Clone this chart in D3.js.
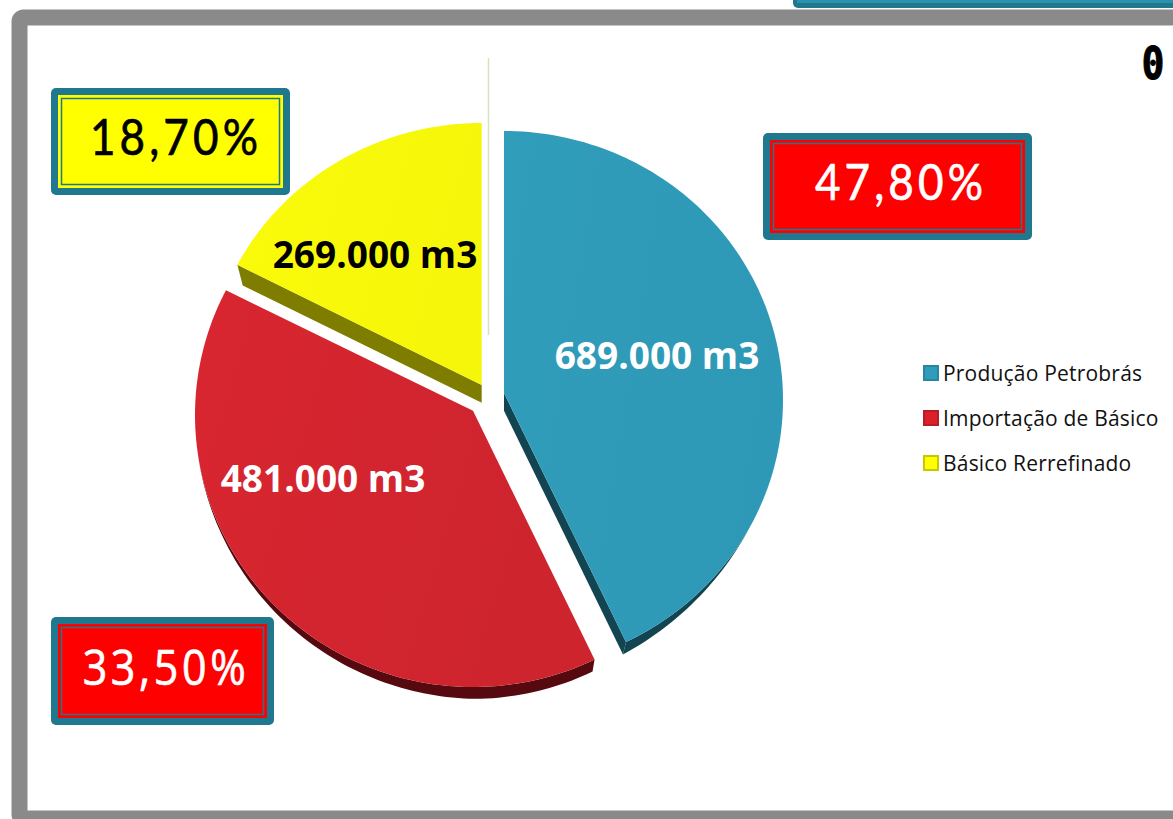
<!DOCTYPE html>
<html><head><meta charset="utf-8">
<script src="https://cdn.jsdelivr.net/npm/d3@7/dist/d3.min.js"></script>
<style>html,body{margin:0;background:#fff}svg{display:block}</style></head>
<body><svg id="c" width="1173" height="819"></svg>
<script>
const categories=["Produção Petrobrás","Importação de Básico","Básico Rerrefinado"];
const volumes=[689000,481000,269000];
const volumeLabels=["689.000 m3","481.000 m3","269.000 m3"];
const percentLabels=["47,80%","33,50%","18,70%"];
const topColors=["#2f9bb9","#d3252f","#f8f80a"];
const gradientTone=[0.03,0.08,0.02];
const sideColors=["#134452","#560a10","#7f7d00"];
const legendColors=["#2e9cba","#dc2029","#ffff00"];
const legendStroke=["#2a86a0","#b81c26","#c8c800"];
const perspectiveFrom=[0,172.4,292.7,360];
const perspectiveTo=[0,154.1,297.3,360];
const sliceGeom=[
 {ax:504,ay:393,cx:504,cy:400,rx:279,ry:269,depth:[-3,12.5],fade:[118,154.1],cut:"end",apexDepth:[0,17.7]},
 {ax:473,ay:410.7,cx:473,cy:415,rx:278,ry:272,depth:[-2,12],fade:[262,178],cut:null},
 {ax:481.7,ay:385,cx:481.7,cy:385,rx:275,ry:262,depth:[5.4,20.7],cut:"start",apexDepth:[0,17.7]}];
const boxes=[
 {x:763,y:133,w:269,h:107,fill:"#ff0000",ink:"#fff",tx:901,ty:200,size:50,font:"Lato",sp:4.7,sx:0.88},
 {x:51,y:617,w:223,h:108,fill:"#ff0000",ink:"#fff",tx:166,ty:685,size:50,font:"Open Sans",sp:4.2,sx:0.86},
 {x:51,y:88,w:239,h:107,fill:"#ffff00",ink:"#000",tx:176,ty:155,size:50,font:"Lato",sp:4.7,sx:0.88}];
const labelPos=[[657,369],[323,492],[375,268]];
const labelInk=["#fff","#fff","#000"];

const svg=d3.select("#c");
const warp=d3.scaleLinear().domain(perspectiveFrom).range(perspectiveTo);
const arcs=d3.pie().sort(null).startAngle(0).endAngle(2*Math.PI)(volumes);
const deg=d3.scaleLinear().domain([0,2*Math.PI]).range([0,360]);
const rad=d3.scaleLinear().domain([0,360]).range([0,2*Math.PI]);
const pt=(g,a)=>[g.cx+g.rx*Math.sin(a),g.cy-g.ry*Math.cos(a)];
const line=d3.line();

// frame
svg.append("rect").attr("x",19.5).attr("y",17.5).attr("width",1300).attr("height",801)
 .attr("rx",4).attr("fill","#fff").attr("stroke","#8a8a8a").attr("stroke-width",16);
svg.append("rect").attr("x",793).attr("y",-20).attr("width",500).attr("height",28).attr("rx",5).attr("fill","#20788f");
svg.append("rect").attr("x",797).attr("y",-20).attr("width",500).attr("height",23).attr("fill","#2b92ad");
svg.append("line").attr("x1",488.5).attr("x2",488.5).attr("y1",58).attr("y2",335).attr("stroke","#d3e3bd").attr("stroke-width",1.5);

// slices
const defs=svg.append("defs");
arcs.forEach((d,i)=>{
 const g=sliceGeom[i];
 const a0=rad(warp(deg(d.startAngle))),a1=rad(warp(deg(d.endAngle)));
 const angles=d3.range(121).map(k=>a0+(a1-a0)*k/120);
 const outer=angles.map(a=>pt(g,a));
 const apex=[g.ax,g.ay];
 const grp=svg.append("g");
 // side wall along the rim, fading out as the rim turns away
 if(g.fade){
  const f=d3.scaleLinear().domain(g.fade).range([0,1]).clamp(true);
  const low=angles.map((a,k)=>{const t=f(deg(a));return [outer[k][0]+g.depth[0]*t,outer[k][1]+g.depth[1]*t];});
  grp.append("path").attr("d",line([...outer,...low.reverse()])+"Z").attr("fill",sideColors[i]);
 }
 // side wall along the cut face
 if(g.cut){
  const tip=g.cut==="end"?outer[120]:outer[0];
  grp.append("path").attr("d",line([apex,tip,[tip[0]+g.depth[0],tip[1]+g.depth[1]],[apex[0]+g.apexDepth[0],apex[1]+g.apexDepth[1]]])+"Z").attr("fill",sideColors[i]);
 }
 const gid="g"+i;
 const lg=defs.append("linearGradient").attr("id",gid).attr("x1","0").attr("y1","0").attr("x2","1").attr("y2","0.3");
 lg.append("stop").attr("offset","0").attr("stop-color",d3.color(topColors[i]).brighter(gradientTone[i]));
 lg.append("stop").attr("offset","1").attr("stop-color",d3.color(topColors[i]).darker(gradientTone[i]));
 grp.append("path").attr("d",line([apex,...outer])+"Z").attr("fill",`url(#${gid})`);
 svg.append("text").attr("x",labelPos[i][0]).attr("y",labelPos[i][1]).attr("text-anchor","middle")
  .attr("font-family","Open Sans").attr("font-weight",700).attr("font-size",37).attr("fill",labelInk[i]).text(volumeLabels[i]);
});

// percent boxes
percentLabels.forEach((t,i)=>{
 const b=boxes[i],g=svg.append("g");
 g.append("rect").attr("x",b.x).attr("y",b.y).attr("width",b.w).attr("height",b.h).attr("rx",5).attr("fill","#20788f");
 g.append("rect").attr("x",b.x+7).attr("y",b.y+7).attr("width",b.w-14).attr("height",b.h-14).attr("fill",b.fill);
 g.append("rect").attr("x",b.x+10.5).attr("y",b.y+10.5).attr("width",b.w-21).attr("height",b.h-21).attr("fill",b.fill).attr("stroke","#20788f").attr("stroke-width",1.5);
 g.append("text").attr("transform",`translate(${b.tx},${b.ty}) scale(${b.sx},1)`).attr("text-anchor","middle").attr("font-family",b.font).attr("font-size",b.size).attr("letter-spacing",b.sp).attr("fill",b.ink).attr("stroke",b.ink).attr("stroke-width",0.7).text(t);
});

// legend
const ly=d3.scalePoint().domain(categories).range([373,463]);
categories.forEach((c,i)=>{
 svg.append("rect").attr("x",924).attr("y",ly(c)-7).attr("width",14).attr("height",14).attr("fill",legendColors[i]).attr("stroke",legendStroke[i]).attr("stroke-width",2);
 svg.append("text").attr("x",943).attr("y",ly(c)+8).attr("font-family","Open Sans").attr("font-size",21).attr("letter-spacing",0.2).attr("fill","#111").text(c);
});

svg.append("text").attr("transform","translate(1153,79) scale(0.85,1)").attr("text-anchor","middle").attr("font-family","DejaVu Sans Mono").attr("font-weight",700).attr("font-size",44).attr("fill","#000").attr("stroke","#000").attr("stroke-width",1.2).text("0");
</script></body></html>
